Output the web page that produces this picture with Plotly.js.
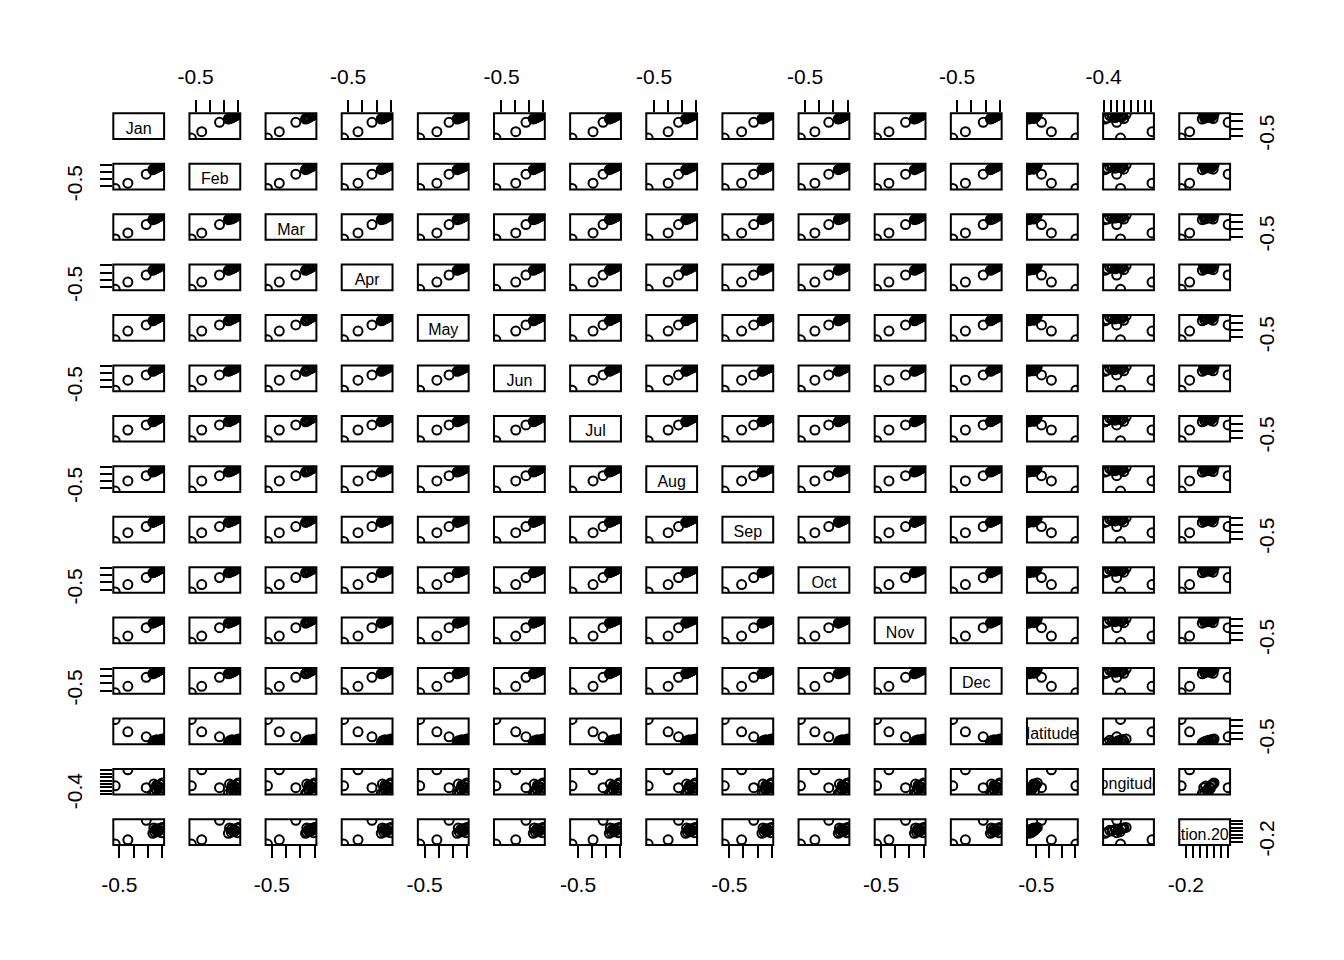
<!DOCTYPE html>
<html>
<head>
<meta charset="utf-8">
<script src="https://cdn.plot.ly/plotly-3.0.1.min.js"></script>
<style>html,body{margin:0;padding:0;background:#fff;}#chart{width:1344px;height:960px;}</style>
</head>
<body>
<div id="chart"></div>
<script>
// Observations (stations), in the same order in every array (15 stations)
const Jan = [-0.530, -0.441, -0.312, -0.253, -0.266, -0.240, -0.226, -0.213, -0.200, -0.246, -0.233, -0.220, -0.259, -0.207, -0.240];
const Feb = [-0.530, -0.457, -0.332, -0.250, -0.270, -0.236, -0.229, -0.210, -0.200, -0.249, -0.230, -0.224, -0.262, -0.205, -0.244];
const Mar = [-0.531, -0.448, -0.332, -0.256, -0.264, -0.243, -0.223, -0.215, -0.201, -0.242, -0.236, -0.218, -0.255, -0.209, -0.238];
const Apr = [-0.532, -0.431, -0.333, -0.251, -0.268, -0.238, -0.228, -0.211, -0.202, -0.248, -0.231, -0.222, -0.260, -0.206, -0.242];
const May = [-0.535, -0.414, -0.328, -0.255, -0.271, -0.241, -0.225, -0.214, -0.203, -0.245, -0.234, -0.219, -0.263, -0.208, -0.239];
const Jun = [-0.540, -0.398, -0.325, -0.258, -0.273, -0.244, -0.230, -0.216, -0.204, -0.250, -0.237, -0.223, -0.266, -0.210, -0.243];
const Jul = [-0.543, -0.392, -0.320, -0.260, -0.275, -0.246, -0.231, -0.217, -0.205, -0.252, -0.239, -0.224, -0.268, -0.211, -0.245];
const Aug = [-0.542, -0.398, -0.323, -0.259, -0.272, -0.245, -0.229, -0.215, -0.203, -0.251, -0.238, -0.222, -0.265, -0.209, -0.244];
const Sep = [-0.536, -0.413, -0.327, -0.254, -0.269, -0.240, -0.227, -0.212, -0.202, -0.247, -0.235, -0.221, -0.261, -0.207, -0.241];
const Oct = [-0.533, -0.431, -0.333, -0.252, -0.266, -0.239, -0.225, -0.212, -0.201, -0.245, -0.232, -0.219, -0.258, -0.206, -0.239];
const Nov = [-0.531, -0.444, -0.327, -0.250, -0.265, -0.237, -0.224, -0.211, -0.200, -0.244, -0.231, -0.218, -0.257, -0.205, -0.238];
const Dec = [-0.530, -0.441, -0.316, -0.252, -0.266, -0.239, -0.226, -0.212, -0.200, -0.246, -0.233, -0.219, -0.259, -0.206, -0.240];
const latitude  = [-0.196, -0.384, -0.460, -0.550, -0.557, -0.535, -0.521, -0.506, -0.492, -0.543, -0.528, -0.514, -0.521, -0.539, -0.503];
const longitude = [-0.153, 0.309, -0.209, -0.347, -0.381, -0.278, -0.188, -0.119, -0.071, -0.229, -0.160, -0.312, -0.105, -0.209, -0.140];
const elevation = [-0.268, -0.146, 0.408, 0.070, 0.036, 0.104, 0.138, 0.178, 0.205, 0.151, 0.084, 0.124, 0.192, 0.056, 0.165];

const varNames = ['Jan','Feb','Mar','Apr','May','Jun','Jul','Aug','Sep','Oct','Nov','Dec','latitude','longitude','elevation.2000'];

const monthTicks = [-0.5, -0.4, -0.3, -0.2];
const latTicks   = [-0.5, -0.4, -0.3, -0.2];
const lonTicks   = [-0.4, -0.3, -0.2, -0.1, 0.0, 0.1, 0.2, 0.3];
const elevTicks  = [-0.2, -0.1, 0.0, 0.1, 0.2, 0.3, 0.4];
const monthTickLabels = ['-0.5', '', '', ''];
const latTickLabels   = ['-0.5', '', '', ''];
const lonTickLabels   = ['-0.4', '', '', '', '', '', '', ''];
const elevTickLabels  = ['-0.2', '', '', '', '', '', ''];

const vars = [Jan, Feb, Mar, Apr, May, Jun, Jul, Aug, Sep, Oct, Nov, Dec, latitude, longitude, elevation];
const tickSets = [];
const tickLabelSets = [];
for (let k = 0; k < 12; k++) { tickSets.push(monthTicks); tickLabelSets.push(monthTickLabels); }
tickSets.push(latTicks, lonTicks, elevTicks);
tickLabelSets.push(latTickLabels, lonTickLabels, elevTickLabels);

const W = 1344, H = 960, n = vars.length;
const left0 = 113.3, colStep = 76.14, panelW = 50.8;
const top0 = 113.3, rowStep = 50.43, panelH = 25.7;

function rangeOf(v) {
  const mn = Math.min(...v), mx = Math.max(...v), pad = 0.04 * (mx - mn);
  return [mn - pad, mx + pad];
}
const ranges = vars.map(rangeOf);
const xid = c => c === 0 ? 'x' : 'x' + (c + 1);
const yid = r => r === 0 ? 'y' : 'y' + (r + 1);

const tickFont = {family: 'Arial, Liberation Sans, sans-serif', size: 21, color: '#000'};
const layout = {
  width: W, height: H,
  margin: {l: 0, r: 0, t: 0, b: 0},
  paper_bgcolor: '#fff', plot_bgcolor: '#fff',
  showlegend: false, hovermode: false,
  shapes: []
};

for (let c = 0; c < n; c++) {
  const x0 = left0 + c * colStep;
  const bottom = c % 2 === 0;
  layout[c === 0 ? 'xaxis' : 'xaxis' + (c + 1)] = {
    domain: [x0 / W, (x0 + panelW) / W],
    range: ranges[c],
    tickmode: 'array', tickvals: tickSets[c], ticktext: tickLabelSets[c],
    ticks: 'outside', ticklen: 12, tickwidth: 2, tickcolor: '#000',
    showgrid: false, zeroline: false, showline: false,
    anchor: bottom ? yid(n - 1) : 'y',
    side: bottom ? 'bottom' : 'top',
    ticklabelstandoff: bottom ? 9 : 8,
    tickfont: tickFont, tickangle: 0, automargin: false, fixedrange: true
  };
}
for (let r = 0; r < n; r++) {
  const t = top0 + r * rowStep;
  const leftSide = r % 2 === 1;
  layout[r === 0 ? 'yaxis' : 'yaxis' + (r + 1)] = {
    domain: [1 - (t + panelH) / H, 1 - t / H],
    range: ranges[r],
    tickmode: 'array', tickvals: tickSets[r], ticktext: tickLabelSets[r],
    ticks: 'outside', ticklen: 12, tickwidth: 2, tickcolor: '#000',
    showgrid: false, zeroline: false, showline: false,
    anchor: leftSide ? 'x' : xid(n - 1),
    side: leftSide ? 'left' : 'right',
    ticklabelstandoff: leftSide ? 10 : 6,
    tickfont: tickFont, tickangle: -90, automargin: false, fixedrange: true
  };
}

const traces = [];
for (let r = 0; r < n; r++) {
  for (let c = 0; c < n; c++) {
    if (r === c) {
      const rx = ranges[c], ry = ranges[r];
      const fx = (c === n - 1) ? 0.30 : 0.5;
      const fy = 0.36;
      traces.push({
        type: 'scatter', mode: 'text',
        x: [rx[0] + fx * (rx[1] - rx[0])], y: [ry[0] + fy * (ry[1] - ry[0])],
        text: [varNames[c]], textposition: 'middle center',
        textfont: {family: 'Arial, Liberation Sans, sans-serif', size: 16, color: '#000'},
        xaxis: xid(c), yaxis: yid(r), cliponaxis: true, hoverinfo: 'skip'
      });
    } else {
      traces.push({
        type: 'scatter', mode: 'markers',
        x: vars[c], y: vars[r],
        marker: {symbol: 'circle-open', size: 9, color: '#000', line: {width: 2, color: '#000'}},
        xaxis: xid(c), yaxis: yid(r), cliponaxis: true, hoverinfo: 'skip'
      });
    }
    layout.shapes.push({
      type: 'rect', xref: xid(c) + ' domain', yref: yid(r) + ' domain',
      x0: 0, x1: 1, y0: 0, y1: 1, line: {color: '#000', width: 2}, fillcolor: 'rgba(0,0,0,0)'
    });
  }
}

Plotly.newPlot('chart', traces, layout, {staticPlot: true, displayModeBar: false});
</script>
</body>
</html>
